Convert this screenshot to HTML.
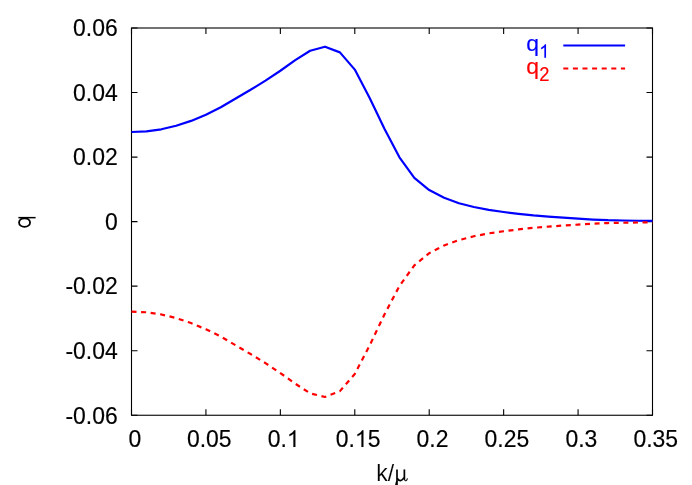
<!DOCTYPE html>
<html><head><meta charset="utf-8"><title>plot</title>
<style>
html,body{margin:0;padding:0;background:#fff;}
body{width:692px;height:485px;overflow:hidden;}
svg{display:block;will-change:transform;}
text{font-family:"Liberation Sans",sans-serif;stroke-width:0.16px;font-kerning:none;}
</style></head><body>
<svg width="692" height="485" viewBox="0 0 692 485">
<rect width="692" height="485" fill="#fff"/>
<rect x="131.5" y="28.0" width="521.0" height="387.25" fill="none" stroke="#000" stroke-width="1.1"/>
<path d="M131.50 415.25 V409.25 M131.50 28.0 V34.0 M205.93 415.25 V409.25 M205.93 28.0 V34.0 M280.36 415.25 V409.25 M280.36 28.0 V34.0 M354.79 415.25 V409.25 M354.79 28.0 V34.0 M429.21 415.25 V409.25 M429.21 28.0 V34.0 M503.64 415.25 V409.25 M503.64 28.0 V34.0 M578.07 415.25 V409.25 M578.07 28.0 V34.0 M652.50 415.25 V409.25 M652.50 28.0 V34.0 M131.5 28.00 H137.5 M652.5 28.00 H646.5 M131.5 92.54 H137.5 M652.5 92.54 H646.5 M131.5 157.08 H137.5 M652.5 157.08 H646.5 M131.5 221.62 H137.5 M652.5 221.62 H646.5 M131.5 286.17 H137.5 M652.5 286.17 H646.5 M131.5 350.71 H137.5 M652.5 350.71 H646.5 M131.5 415.25 H137.5 M652.5 415.25 H646.5" stroke="#000" stroke-width="1.1" fill="none"/>
<polyline points="131.50,132.00 146.39,131.40 161.27,129.30 176.16,125.70 191.04,120.90 205.93,114.70 220.81,107.30 235.70,98.50 250.59,89.80 265.47,80.65 280.36,70.75 295.24,60.10 310.13,50.75 325.01,46.70 339.90,52.35 354.79,69.60 369.67,97.90 384.56,129.00 399.44,157.30 414.33,177.90 429.21,190.10 444.10,197.80 458.99,203.20 473.87,207.00 488.76,209.90 503.64,212.00 518.53,213.80 533.41,215.45 548.30,216.65 563.19,217.70 578.07,218.70 592.96,219.55 607.84,220.20 622.73,220.50 637.61,220.75 652.50,220.95" fill="none" stroke="#0000ff" stroke-width="2.2" stroke-linejoin="round"/>
<polyline points="131.50,311.65 146.39,312.25 161.27,314.45 176.16,318.05 191.04,323.05 205.93,329.25 220.81,336.55 235.70,345.35 250.59,354.05 265.47,363.15 280.36,373.05 295.24,383.65 310.13,393.35 325.01,396.95 339.90,391.15 354.79,373.95 369.67,345.35 384.56,314.25 399.44,285.95 414.33,265.35 429.21,253.15 444.10,245.45 458.99,240.05 473.87,236.25 488.76,233.35 503.64,231.25 518.53,229.45 533.41,227.80 548.30,226.60 563.19,225.55 578.07,224.55 592.96,223.70 607.84,223.05 622.73,222.75 637.61,222.50 652.50,222.30" fill="none" stroke="#ff0000" stroke-width="2.2" stroke-dasharray="5 4.6" stroke-linejoin="round"/>
<line x1="563.3" x2="625.1" y1="45.5" y2="45.5" stroke="#0000ff" stroke-width="2.2"/>
<line x1="563.3" x2="625.1" y1="68.5" y2="68.5" stroke="#ff0000" stroke-width="2.2" stroke-dasharray="5 4.6"/>
<text transform="translate(526.20,50.90) scale(1,1.0)" font-size="22.95" fill="#0000ff" stroke="#0000ff">q</text>
<path transform="translate(539.16,57.70) scale(0.008965,-0.009093)" d="M763 0H583V1147Q518 1085 412.5 1023T223 930V1104Q374 1175 487 1276T647 1472H763Z" fill="#0000ff" stroke="#0000ff" stroke-width="10.7"/>
<text transform="translate(526.20,74.10) scale(1,1.0)" font-size="22.95" fill="#ff0000" stroke="#ff0000">q</text>
<text transform="translate(539.16,80.70) scale(1,1.056)" font-size="18.36" fill="#ff0000" stroke="#ff0000">2</text>
<text transform="translate(73.03,36.30) scale(1,1.056)" font-size="22.95" fill="#000" stroke="#000">0.06</text>
<text transform="translate(73.03,100.84) scale(1,1.056)" font-size="22.95" fill="#000" stroke="#000">0.04</text>
<text transform="translate(73.03,165.38) scale(1,1.056)" font-size="22.95" fill="#000" stroke="#000">0.02</text>
<text transform="translate(104.94,229.93) scale(1,1.056)" font-size="22.95" fill="#000" stroke="#000">0</text>
<text transform="translate(65.39,294.47) scale(1,1.056)" font-size="22.95" fill="#000" stroke="#000">-0.02</text>
<text transform="translate(65.39,359.01) scale(1,1.056)" font-size="22.95" fill="#000" stroke="#000">-0.04</text>
<text transform="translate(65.39,423.55) scale(1,1.056)" font-size="22.95" fill="#000" stroke="#000">-0.06</text>
<text transform="translate(128.42,446.90) scale(1,1.056)" font-size="22.95" fill="#000" stroke="#000">0</text>
<text transform="translate(186.89,446.90) scale(1,1.056)" font-size="22.95" fill="#000" stroke="#000">0.05</text>
<text transform="translate(267.71,446.90) scale(1,1.056)" font-size="22.95" fill="#000" stroke="#000">0.</text>
<path transform="translate(286.85,446.90) scale(0.011206,-0.011366)" d="M763 0H583V1147Q518 1085 412.5 1023T223 930V1104Q374 1175 487 1276T647 1472H763Z" fill="#000" stroke="#000" stroke-width="8.6"/>
<text transform="translate(335.75,446.90) scale(1,1.056)" font-size="22.95" fill="#000" stroke="#000">0.</text>
<path transform="translate(354.89,446.90) scale(0.011206,-0.011366)" d="M763 0H583V1147Q518 1085 412.5 1023T223 930V1104Q374 1175 487 1276T647 1472H763Z" fill="#000" stroke="#000" stroke-width="8.6"/>
<text transform="translate(367.66,446.90) scale(1,1.056)" font-size="22.95" fill="#000" stroke="#000">5</text>
<text transform="translate(416.56,446.90) scale(1,1.056)" font-size="22.95" fill="#000" stroke="#000">0.2</text>
<text transform="translate(484.61,446.90) scale(1,1.056)" font-size="22.95" fill="#000" stroke="#000">0.25</text>
<text transform="translate(565.42,446.90) scale(1,1.056)" font-size="22.95" fill="#000" stroke="#000">0.3</text>
<text transform="translate(633.47,446.90) scale(1,1.056)" font-size="22.95" fill="#000" stroke="#000">0.35</text>
<text transform="translate(376.30,481.20) scale(1,1.05)" font-size="22.95" fill="#000" stroke="#fff" style="stroke-width:0.1px">k/</text>
<g transform="translate(372,458) scale(0.0578)" fill="#000" stroke="none"><path d="M418 198H447V520H396Q400 440 418 392Z"/><path d="M545 198H575V372H545Z"/><path d="M436 350Q456 394 496 392Q532 388 552 338" fill="none" stroke="#000" stroke-width="30"/><path d="M560 350Q562 398 588 392Q606 386 614 352" fill="none" stroke="#000" stroke-width="18"/></g>
<g fill="none" stroke="#000"><ellipse cx="24.55" cy="222.55" rx="5.5" ry="4.35" stroke-width="1.85"/><line x1="18.4" x2="35.6" y1="217.65" y2="217.65" stroke-width="1.5"/></g>
</svg>
</body></html>
